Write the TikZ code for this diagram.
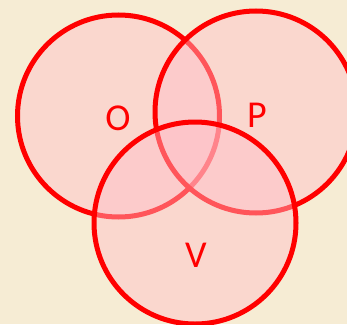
\documentclass[tikz,border=0pt]{standalone}
\usepackage{fontspec}
\setmainfont{Carlito}
\definecolor{bg}{RGB}{246,236,212}
\definecolor{ring}{RGB}{255,0,0}
\definecolor{fillpink}{RGB}{255,190,200}
\begin{document}
\begin{tikzpicture}[x=1pt,y=-1pt,
  setfill/.style={fill=fillpink,opacity=0.45},
  setring/.style={draw=ring,line width=5pt},
  setlabel/.style={text=ring,font=\fontsize{38}{40}\selectfont,inner sep=0pt}]
\fill[bg] (0,0) rectangle (347,324);
\useasboundingbox (0,0) rectangle (347,324);
\path[setfill] (118.5,116) circle (101);
\path[setring] (118.5,116) circle (101);
\path[setfill] (256,112) circle (101);
\path[setring] (256,112) circle (101);
\path[setfill] (195,223) circle (101);
\path[setring] (195,223) circle (101);
\node[setlabel] (O) at (118,118) {O};
\node[setlabel] (P) at (257,115) {P};
\node[setlabel] (V) at (196,255) {V};
\end{tikzpicture}
\end{document}
